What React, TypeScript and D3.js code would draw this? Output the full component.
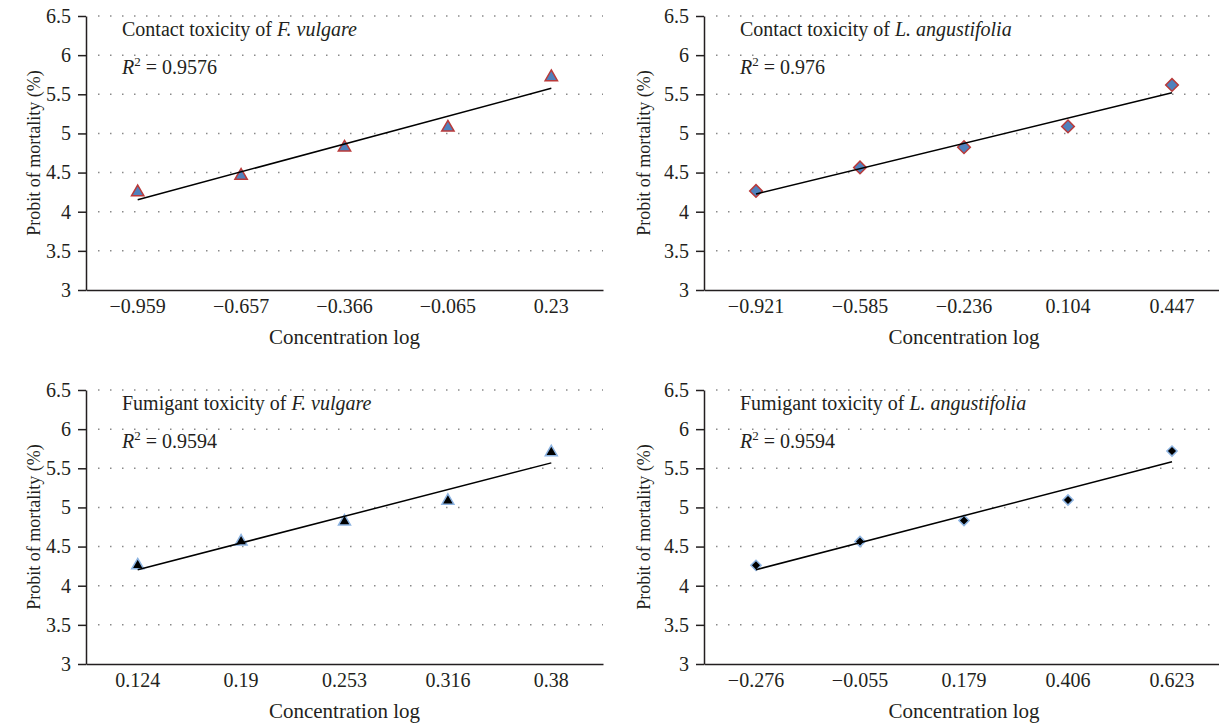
import React, { useEffect, useRef } from "react";
import * as d3 from "d3";

// probit axis
const yTicks = [3, 3.5, 4, 4.5, 5, 5.5, 6, 6.5];

// contact toxicity, F. vulgare
const contactFvLogs = ["−0.959", "−0.657", "−0.366", "−0.065", "0.23"];
const contactFvProbit = [4.25, 4.46, 4.82, 5.075, 5.72];

// contact toxicity, L. angustifolia
const contactLaLogs = ["−0.921", "−0.585", "−0.236", "0.104", "0.447"];
const contactLaProbit = [4.265, 4.565, 4.825, 5.09, 5.62];

// fumigant toxicity, F. vulgare
const fumFvLogs = ["0.124", "0.19", "0.253", "0.316", "0.38"];
const fumFvProbit = [4.26, 4.565, 4.82, 5.085, 5.705];

// fumigant toxicity, L. angustifolia
const fumLaLogs = ["−0.276", "−0.055", "0.179", "0.406", "0.623"];
const fumLaProbit = [4.26, 4.565, 4.833, 5.095, 5.72];

const titles = ["Contact toxicity of ", "Contact toxicity of ", "Fumigant toxicity of ", "Fumigant toxicity of "];
const species = ["F. vulgare", "L. angustifolia", "F. vulgare", "L. angustifolia"];
const rSquared = ["0.9576", "0.976", "0.9594", "0.9594"];

const font = "'Liberation Serif', 'Times New Roman', serif";
const ink = "#231f20";

const App = () => {
    const ref = useRef<SVGSVGElement>(null);

    useEffect(() => {
        const svg = d3.select(ref.current);
        svg.selectAll("*").remove();

        const panels = [
            { left: 86, right: 603, top: 16, bottom: 290, labelX: 40, cats: contactFvLogs, vals: contactFvProbit, shape: "triangle", fill: "#4f81bd", stroke: "#b93a3a", size: 66 },
            { left: 704, right: 1224, top: 16, bottom: 290, labelX: 650, cats: contactLaLogs, vals: contactLaProbit, shape: "diamond", fill: "#4f81bd", stroke: "#b93a3a", size: 80 },
            { left: 86, right: 603, top: 390, bottom: 664, labelX: 40, cats: fumFvLogs, vals: fumFvProbit, shape: "triangle", fill: "#000", stroke: "#8db4e2", size: 62 },
            { left: 704, right: 1224, top: 390, bottom: 664, labelX: 650, cats: fumLaLogs, vals: fumLaProbit, shape: "diamond", fill: "#000", stroke: "#8db4e2", size: 52 },
        ];

        panels.forEach((p, k) => {
            const g = svg.append("g");
            const x = d3.scaleBand().domain(p.cats).range([p.left, p.right]);
            const y = d3.scaleLinear().domain([3, 6.5]).range([p.bottom, p.top]);
            const cx = (c: string) => (x(c) as number) + x.bandwidth() / 2;

            // dotted grid
            g.selectAll(".grid")
                .data(yTicks.filter(t => t > 3))
                .enter()
                .append("line")
                .attr("x1", p.left + 12)
                .attr("x2", Math.min(p.right, 1219))
                .attr("y1", d => y(d))
                .attr("y2", d => y(d))
                .attr("stroke", "#8a8a8a")
                .attr("stroke-width", 1.5)
                .attr("stroke-dasharray", "1.5 10.5");

            // axes
            const ya = g.append("g")
                .attr("transform", "translate(" + p.left + ",0)")
                .call(d3.axisLeft(y).tickValues(yTicks).tickSize(8).tickSizeOuter(0).tickPadding(7).tickFormat(d => String(d)))
                .attr("font-family", font)
                .attr("font-size", 20);
            ya.selectAll("path, line").attr("stroke", ink).attr("stroke-width", 1.5);
            ya.selectAll("text").attr("fill", ink);

            const xa = g.append("g")
                .attr("transform", "translate(0," + p.bottom + ")")
                .call(d3.axisBottom(x).tickSize(0).tickSizeOuter(0).tickPadding(9))
                .attr("font-family", font)
                .attr("font-size", 20);
            xa.selectAll("path").attr("stroke", ink).attr("stroke-width", 1.5);
            xa.selectAll("text").attr("fill", ink);

            // axis titles
            g.append("text")
                .attr("transform", "translate(" + p.labelX + "," + (p.top + p.bottom) / 2 + ") rotate(-90)")
                .attr("text-anchor", "middle")
                .attr("font-family", font)
                .attr("font-size", 18)
                .attr("fill", ink)
                .text("Probit of mortality (%)");

            g.append("text")
                .attr("x", (p.left + p.right) / 2)
                .attr("y", p.bottom + 54)
                .attr("text-anchor", "middle")
                .attr("font-family", font)
                .attr("font-size", 21)
                .attr("fill", ink)
                .text("Concentration log");

            // panel title and R²
            const t = g.append("text")
                .attr("x", p.left + 36)
                .attr("y", p.top + 20)
                .attr("font-family", font)
                .attr("font-size", 20)
                .attr("fill", ink);
            t.append("tspan").text(titles[k]);
            t.append("tspan").attr("font-style", "italic").text(species[k]);

            const r = g.append("text")
                .attr("x", p.left + 36)
                .attr("y", p.top + 58)
                .attr("font-family", font)
                .attr("font-size", 20)
                .attr("fill", ink);
            r.append("tspan").attr("font-style", "italic").text("R");
            r.append("tspan").attr("font-size", 13).attr("dy", -8).text("2");
            r.append("tspan").attr("dy", 8).text(" = " + rSquared[k]);

            // markers
            const sym = d3.symbol()
                .type(p.shape === "triangle" ? d3.symbolTriangle : d3.symbolSquare)
                .size(p.size);
            g.selectAll(".pt")
                .data(p.vals)
                .enter()
                .append("path")
                .attr("d", sym)
                .attr("transform", (d, i) => "translate(" + cx(p.cats[i]) + "," + y(d) + ")" + (p.shape === "diamond" ? " rotate(45)" : ""))
                .attr("fill", p.fill)
                .attr("stroke", p.stroke)
                .attr("stroke-width", 1.5);

            // linear trendline (least squares over category index)
            const idx = p.vals.map((_, i) => i);
            const mx = d3.mean(idx) as number;
            const my = d3.mean(p.vals) as number;
            const slope = d3.sum(idx, i => (i - mx) * (p.vals[i] - my)) / d3.sum(idx, i => (i - mx) * (i - mx));
            const icpt = my - slope * mx;
            const last = p.vals.length - 1;
            g.append("line")
                .attr("x1", cx(p.cats[0]))
                .attr("y1", y(icpt))
                .attr("x2", cx(p.cats[last]))
                .attr("y2", y(icpt + slope * last))
                .attr("stroke", "#000")
                .attr("stroke-width", 1.5);
        });
    }, []);

    return (
        <svg ref={ref} width={1219} height={724} style={{ position: "absolute", left: 0, top: 0, background: "#fff" }} />
    );
};

export default App;
